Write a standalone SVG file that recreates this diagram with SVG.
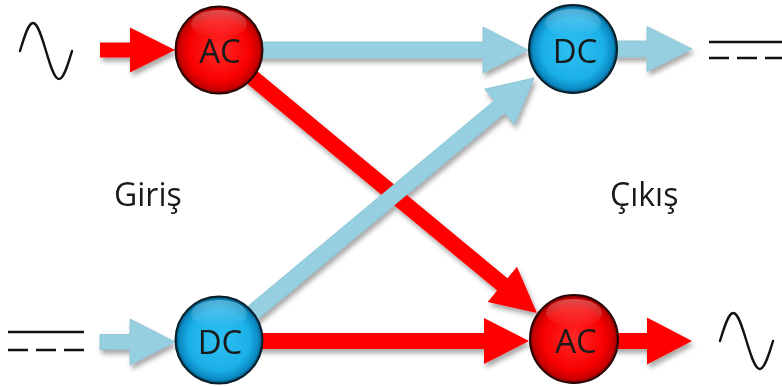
<svg xmlns="http://www.w3.org/2000/svg" width="782" height="386" viewBox="0 0 782 386">
  <style>
    .red { fill: #FF0000; }
    .blue { fill: #96CFE0; stroke: #86C0D2; stroke-width: 0.8; }
    .sym { fill: none; stroke: #111; stroke-width: 2.4; stroke-linecap: round; }
    .line { fill: none; stroke: #111; stroke-width: 2.4; }
    .dash { fill: none; stroke: #111; stroke-width: 2.4; stroke-dasharray: 20 8; }
    .lbl { font-family: "Open Sans", "Noto Sans", sans-serif; font-size: 33px; fill: #1a1a1a; text-anchor: middle; }
    .side { font-family: "Open Sans", "Noto Sans", sans-serif; font-size: 32px; fill: #1a1a1a; }
    .nodeRed { fill: url(#gRed); stroke: #2a0505; stroke-width: 2; }
    .nodeBlue { fill: url(#gBlue); stroke: #06202c; stroke-width: 2; }
    .shine { fill: url(#gShine); }
  </style>
  <defs>
    <filter id="sh" x="-10%" y="-30%" width="120%" height="160%">
      <feDropShadow dx="2" dy="4" stdDeviation="2.5" flood-color="#000" flood-opacity="0.35"/>
    </filter>
    <radialGradient id="gRed" cx="50%" cy="50%" r="50%">
      <stop offset="0" stop-color="#FF2A2A"/>
      <stop offset="0.7" stop-color="#F80000"/>
      <stop offset="0.92" stop-color="#C80000"/>
      <stop offset="1" stop-color="#7a0000"/>
    </radialGradient>
    <radialGradient id="gBlue" cx="50%" cy="50%" r="50%">
      <stop offset="0" stop-color="#2EC0F2"/>
      <stop offset="0.7" stop-color="#1BB0E8"/>
      <stop offset="0.92" stop-color="#0A88C0"/>
      <stop offset="1" stop-color="#044A6a"/>
    </radialGradient>
    <linearGradient id="gShine" x1="0" y1="0" x2="0" y2="1">
      <stop offset="0" stop-color="#fff" stop-opacity="0.3"/>
      <stop offset="1" stop-color="#fff" stop-opacity="0"/>
    </linearGradient>
  </defs>

  <rect width="782" height="386" fill="#fff"/>

  <!-- AC / DC symbols -->
  <g id="sym-ac-in">
    <path class="sym" d="M20,51 C24.24,36.66 28.3,23 33,23 C37.7,23 41.76,36.66 46,51 C50.24,65.34 54.3,79 59,79 C63.7,79 67.76,65.34 72,51"/>
  </g>
  <g id="sym-ac-out">
    <path class="sym" d="M720,341 C724.3,326.66 728.45,313 733.25,313 C738.05,313 742.2,326.66 746.5,341 C750.8,355.34 754.95,369 759.75,369 C764.55,369 768.7,355.34 773,341"/>
  </g>
  <g id="sym-dc-out">
    <line class="line" x1="709" y1="42" x2="782" y2="42"/>
    <line class="dash" x1="709" y1="58" x2="782" y2="58"/>
  </g>
  <g id="sym-dc-in">
    <line class="line" x1="8" y1="332" x2="84" y2="332"/>
    <line class="dash" x1="8" y1="350" x2="84" y2="350"/>
  </g>

  <!-- connectors -->
  <g id="connectors" filter="url(#sh)">
    <path class="red" transform="translate(100,50)" d="M0,-7.5 L30,-7.5 L30,-22.5 L75,0 L30,22.5 L30,7.5 L0,7.5 Z"/>
    <path class="blue" transform="translate(100,342)" d="M0,-7.5 L30,-7.5 L30,-23 L75,0 L30,23 L30,7.5 L0,7.5 Z"/>
    <path class="red" transform="translate(219,50) rotate(39.6)" d="M0,-8 L367.7,-8 L367.7,-23 L412.7,0 L367.7,23 L367.7,8 L0,8 Z"/>
    <path class="blue" transform="translate(219,341) rotate(-39.86)" d="M0,-8 L365.4,-8 L365.4,-23 L410.4,0 L365.4,23 L365.4,8 L0,8 Z"/>
    <path class="blue" transform="translate(219,50)" d="M0,-8 L264,-8 L264,-23 L309,0 L264,23 L264,8 L0,8 Z"/>
    <path class="red" transform="translate(219,341)" d="M0,-8 L265,-8 L265,-23 L310,0 L265,23 L265,8 L0,8 Z"/>
    <path class="blue" transform="translate(600,49)" d="M0,-8 L47,-8 L47,-22.5 L92,0 L47,22.5 L47,8 L0,8 Z"/>
    <path class="red" transform="translate(600,341)" d="M0,-8 L47,-8 L47,-23.5 L92,0 L47,23.5 L47,8 L0,8 Z"/>
  </g>

  <!-- nodes -->
  <g id="node-ac-in">
    <circle class="nodeRed" cx="219" cy="50" r="43.5"/>
    <ellipse class="shine" cx="219" cy="24" rx="28" ry="14"/>
    <text class="lbl" x="220" y="63">AC</text>
  </g>
  <g id="node-dc-out">
    <circle class="nodeBlue" cx="573" cy="49" r="44"/>
    <ellipse class="shine" cx="573" cy="23" rx="28" ry="14"/>
    <text class="lbl" x="575" y="63">DC</text>
  </g>
  <g id="node-dc-in">
    <circle class="nodeBlue" cx="219" cy="340" r="43.5"/>
    <ellipse class="shine" cx="219" cy="314" rx="28" ry="14"/>
    <text class="lbl" x="220" y="354">DC</text>
  </g>
  <g id="node-ac-out">
    <circle class="nodeRed" cx="574" cy="339" r="44"/>
    <ellipse class="shine" cx="574" cy="313" rx="28" ry="14"/>
    <text class="lbl" x="576" y="353">AC</text>
  </g>

  <!-- side labels -->
  <g id="label-giris">
    <text class="side" x="114" y="206">Giriş</text>
  </g>
  <g id="label-cikis">
    <text class="side" x="610" y="206">Çıkış</text>
  </g>
</svg>
